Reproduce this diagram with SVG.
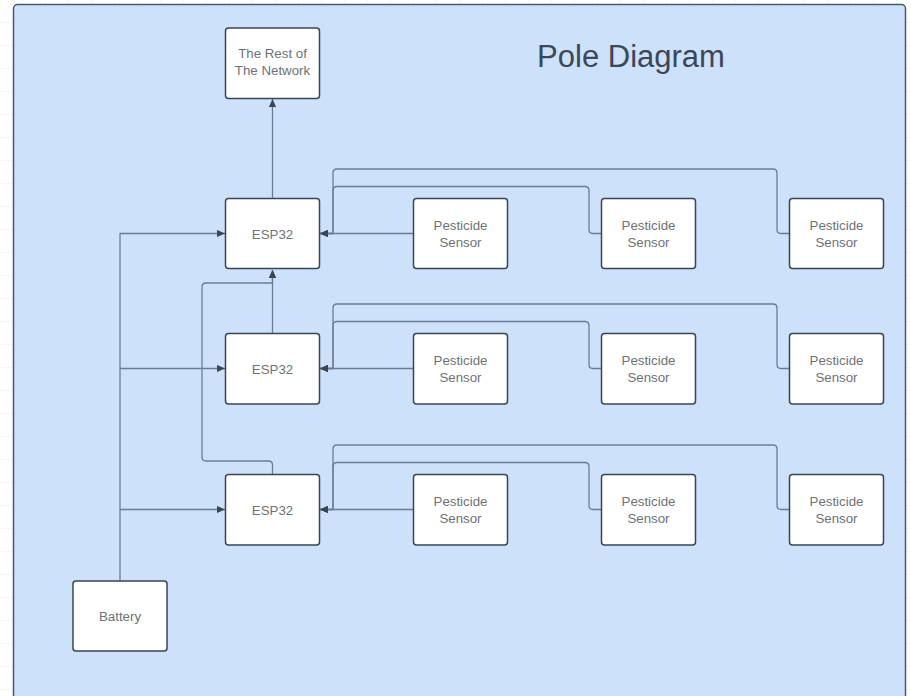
<svg xmlns="http://www.w3.org/2000/svg" width="911" height="696" viewBox="0 0 911 696">
<defs>
<pattern id="grid" width="23" height="23" patternUnits="userSpaceOnUse">
<path d="M23 0V23M0 23H23" fill="none" stroke="#eceef0" stroke-width="1"/>
</pattern>
<marker id="arr" viewBox="0 0 10 10" refX="10" refY="5" markerWidth="8" markerHeight="8" markerUnits="userSpaceOnUse" orient="auto">
<path d="M0 0.5L10 5L0 9.5Z" fill="#3a4556"/>
</marker>
<style>
.node{fill:#ffffff;stroke:#3a4556;stroke-width:1.5}
.lbl{font-family:"Liberation Sans",Arial,sans-serif;font-size:13.3px;fill:#6e7278;text-anchor:middle}
.conn{fill:none;stroke:#6a7d96;stroke-width:1.3;stroke-linejoin:round}
.arr{marker-end:url(#arr)}
.title{font-family:"Liberation Sans",Arial,sans-serif;font-size:31px;fill:#3b4758;text-anchor:middle}
</style>
</defs>
<rect width="911" height="696" fill="#ffffff"/>
<rect width="911" height="696" fill="url(#grid)"/>
<rect id="panel" x="13.5" y="4.5" width="892" height="700" rx="4" fill="#cde1fb" stroke="#4d5968" stroke-width="1.5"/>
<text class="title" x="631" y="67">Pole Diagram</text>

<g id="connectors">
<path class="conn arr" d="M272.5 198V99"/>
<path class="conn arr" d="M272.5 333V270"/>
<path class="conn arr" d="M272.5 474V465Q272.5 461 268.5 461H206Q202 461 202 457V287Q202 283 206 283H272.5V270"/>
<path class="conn arr" d="M120 581V233.5H225"/>
<path class="conn arr" d="M120 368.5H225"/>
<path class="conn arr" d="M120 509.5H225"/>

<path class="conn arr" d="M413 233.5H320"/>
<path class="conn arr" d="M601 233.5H593Q589 233.5 589 229.5V190.5Q589 186.5 585 186.5H337Q333 186.5 333 190.5V233.5H320"/>
<path class="conn arr" d="M789 233.5H781Q777 233.5 777 229.5V173Q777 169 773 169H337Q333 169 333 173V233.5H320"/>

<path class="conn arr" d="M413 368.5H320"/>
<path class="conn arr" d="M601 368.5H593Q589 368.5 589 364.5V325.5Q589 321.5 585 321.5H337Q333 321.5 333 325.5V368.5H320"/>
<path class="conn arr" d="M789 368.5H781Q777 368.5 777 364.5V308Q777 304 773 304H337Q333 304 333 308V368.5H320"/>

<path class="conn arr" d="M413 509.5H320"/>
<path class="conn arr" d="M601 509.5H593Q589 509.5 589 505.5V466.5Q589 462.5 585 462.5H337Q333 462.5 333 466.5V509.5H320"/>
<path class="conn arr" d="M789 509.5H781Q777 509.5 777 505.5V449Q777 445 773 445H337Q333 445 333 449V509.5H320"/>
</g>

<g id="rest-of-network"><rect class="node" x="225.5" y="28" width="94" height="70.5" rx="3"/><text class="lbl" x="272.5" y="58">The Rest of</text><text class="lbl" x="272.5" y="75">The Network</text></g>

<g id="esp32-1"><rect class="node" x="225.5" y="198.5" width="94" height="70" rx="3"/><text class="lbl" x="272.5" y="238.5">ESP32</text></g>
<g id="esp32-2"><rect class="node" x="225.5" y="333.5" width="94" height="70.5" rx="3"/><text class="lbl" x="272.5" y="373.5">ESP32</text></g>
<g id="esp32-3"><rect class="node" x="225.5" y="474.5" width="94" height="70.5" rx="3"/><text class="lbl" x="272.5" y="514.5">ESP32</text></g>

<g id="sensor-1-1"><rect class="node" x="413.5" y="198.5" width="94" height="70" rx="3"/><text class="lbl" x="460.5" y="230">Pesticide</text><text class="lbl" x="460.5" y="247">Sensor</text></g>
<g id="sensor-1-2"><rect class="node" x="601.5" y="198.5" width="94" height="70" rx="3"/><text class="lbl" x="648.5" y="230">Pesticide</text><text class="lbl" x="648.5" y="247">Sensor</text></g>
<g id="sensor-1-3"><rect class="node" x="789.5" y="198.5" width="94" height="70" rx="3"/><text class="lbl" x="836.5" y="230">Pesticide</text><text class="lbl" x="836.5" y="247">Sensor</text></g>

<g id="sensor-2-1"><rect class="node" x="413.5" y="333.5" width="94" height="70.5" rx="3"/><text class="lbl" x="460.5" y="365">Pesticide</text><text class="lbl" x="460.5" y="382">Sensor</text></g>
<g id="sensor-2-2"><rect class="node" x="601.5" y="333.5" width="94" height="70.5" rx="3"/><text class="lbl" x="648.5" y="365">Pesticide</text><text class="lbl" x="648.5" y="382">Sensor</text></g>
<g id="sensor-2-3"><rect class="node" x="789.5" y="333.5" width="94" height="70.5" rx="3"/><text class="lbl" x="836.5" y="365">Pesticide</text><text class="lbl" x="836.5" y="382">Sensor</text></g>

<g id="sensor-3-1"><rect class="node" x="413.5" y="474.5" width="94" height="70.5" rx="3"/><text class="lbl" x="460.5" y="506">Pesticide</text><text class="lbl" x="460.5" y="523">Sensor</text></g>
<g id="sensor-3-2"><rect class="node" x="601.5" y="474.5" width="94" height="70.5" rx="3"/><text class="lbl" x="648.5" y="506">Pesticide</text><text class="lbl" x="648.5" y="523">Sensor</text></g>
<g id="sensor-3-3"><rect class="node" x="789.5" y="474.5" width="94" height="70.5" rx="3"/><text class="lbl" x="836.5" y="506">Pesticide</text><text class="lbl" x="836.5" y="523">Sensor</text></g>

<g id="battery"><rect class="node" x="73" y="581" width="94" height="70" rx="3"/><text class="lbl" x="120" y="620.5">Battery</text></g>
</svg>
